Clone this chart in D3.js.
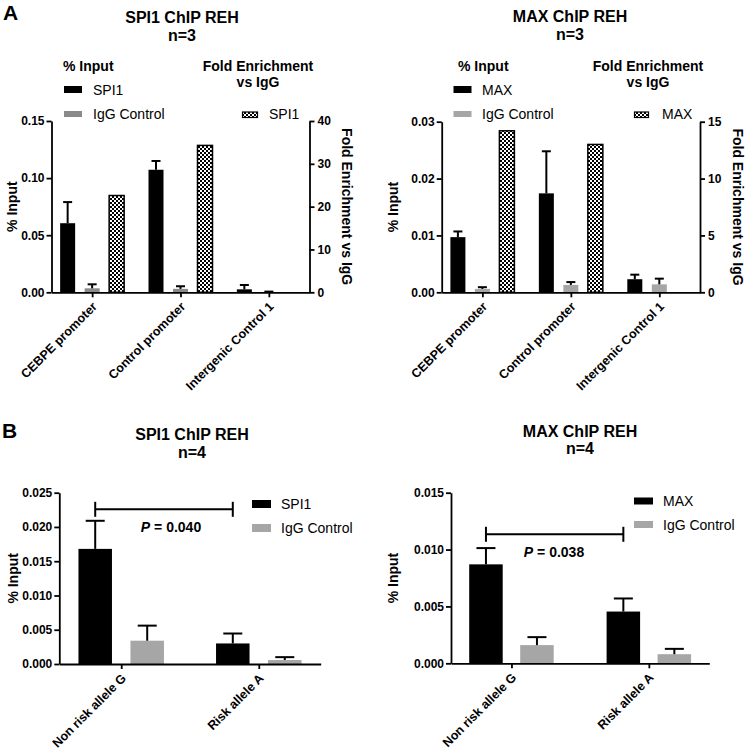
<!DOCTYPE html>
<html>
<head>
<meta charset="utf-8">
<script src="https://cdn.jsdelivr.net/npm/d3@7"></script>
<style>
  body { margin: 0; background: #fff; }
  svg { display: block; font-family: "Liberation Sans", Arial, sans-serif; }
  .axis path, .axis line { stroke: #000; stroke-width: 1.8; }
  .axis text { font-size: 12px; font-weight: bold; fill: #000; font-family: "Liberation Sans", Arial, sans-serif; }
  .axis .xlab { font-size: 12.5px; }
</style>
</head>
<body>
<script>
// ---------- DATA ----------
const promoterGroups = ["CEBPE promoter", "Control promoter", "Intergenic Control 1"];
const alleleGroups = ["Non risk allele G", "Risk allele A"];

// Panel A, SPI1 ChIP REH (n=3)
const spi1Input      = [0.0605, 0.1073, 0.0026];
const spi1InputErr   = [0.0185, 0.0077, 0.0038];
const spi1IgG        = [0.0035, 0.0030, 0.0003];
const spi1IgGErr     = [0.0035, 0.0023, 0.0003];
const spi1Fold       = [22.6, 34.3, null];

// Panel A, MAX ChIP REH (n=3)
const maxInput       = [0.0097, 0.0174, 0.0023];
const maxInputErr    = [0.0010, 0.0074, 0.0008];
const maxIgG         = [0.0006, 0.0013, 0.0014];
const maxIgGErr      = [0.0003, 0.0005, 0.0010];
const maxFold        = [14.2, 13.0, null];

// Panel B, SPI1 ChIP REH (n=4)
const spi1Allele     = [0.0168, 0.0030];
const spi1AlleleErr  = [0.0041, 0.00145];
const spi1AlleleIgG  = [0.0034, 0.00058];
const spi1AlleleIgGErr = [0.0022, 0.00042];
const spi1P = "0.040";

// Panel B, MAX ChIP REH (n=4)
const maxAllele      = [0.0087, 0.00455];
const maxAlleleErr   = [0.00143, 0.00115];
const maxAlleleIgG   = [0.0016, 0.0008];
const maxAlleleIgGErr = [0.0007, 0.00047];
const maxP = "0.038";

// Tick values
const ticksSpi1A = [0, 0.05, 0.10, 0.15];
const ticksSpi1Fold = [0, 10, 20, 30, 40];
const ticksMaxA = [0, 0.01, 0.02, 0.03];
const ticksMaxFold = [0, 5, 10, 15];
const ticksSpi1B = [0, 0.005, 0.010, 0.015, 0.020, 0.025];
const ticksMaxB = [0, 0.005, 0.010, 0.015];

// ---------- DRAWING ----------
const W = 745, H = 753;
const svg = d3.select("body").append("svg").attr("width", W).attr("height", H);

const defs = svg.append("defs");
const pat = defs.append("pattern").attr("id", "checker")
  .attr("patternUnits", "userSpaceOnUse").attr("width", 4).attr("height", 4);
pat.append("rect").attr("width", 4).attr("height", 4).attr("fill", "#fff");
pat.append("rect").attr("width", 2).attr("height", 2).attr("fill", "#000");
pat.append("rect").attr("x", 2).attr("y", 2).attr("width", 2).attr("height", 2).attr("fill", "#000");

function txt(x, y, s, opts = {}) {
  return svg.append("text").attr("x", x).attr("y", y)
    .attr("text-anchor", opts.anchor || "start")
    .attr("font-size", opts.size || 14)
    .attr("font-weight", opts.bold ? "bold" : "normal")
    .attr("fill", "#000")
    .text(s);
}

function panel(cfg) {
  const g = svg.append("g");
  const x = d3.scalePoint().domain(cfg.groups).range([cfg.x0, cfg.x1]).padding(cfg.pad);
  const y = d3.scaleLinear().domain([0, cfg.yMax]).range([cfg.yBottom, cfg.yTopPx]);
  let y2 = null;
  if (cfg.y2Max) y2 = d3.scaleLinear().domain([0, cfg.y2Max]).range([cfg.yBottom, cfg.yTopPx]);

  // bars
  cfg.series.forEach(s => {
    const sc = s.right ? y2 : y;
    cfg.groups.forEach((grp, i) => {
      const v = s.values[i];
      if (v == null) return;
      const cx = x(grp) + s.offset;
      g.append("rect")
        .attr("x", cx - cfg.bw / 2)
        .attr("y", sc(v))
        .attr("width", cfg.bw)
        .attr("height", cfg.yBottom - sc(v))
        .attr("fill", s.fill)
        .attr("stroke", s.stroke || "none")
        .attr("stroke-width", s.stroke ? 1.5 : 0);
      if (s.errors) {
        const e = s.errors[i];
        const yt = sc(v + e);
        g.append("line").attr("x1", cx).attr("x2", cx).attr("y1", sc(v)).attr("y2", yt)
          .attr("stroke", "#000").attr("stroke-width", 2);
        g.append("line").attr("x1", cx - cfg.cap / 2).attr("x2", cx + cfg.cap / 2)
          .attr("y1", yt).attr("y2", yt).attr("stroke", "#000").attr("stroke-width", 2);
      }
    });
  });

  // axes
  g.append("g").attr("class", "axis").attr("transform", `translate(${cfg.x0},0)`)
    .call(d3.axisLeft(y).tickValues(cfg.ticks).tickFormat(d3.format(cfg.fmt)).tickSize(5).tickSizeOuter(0).tickPadding(2));
  if (y2) {
    g.append("g").attr("class", "axis").attr("transform", `translate(${cfg.x1},0)`)
      .call(d3.axisRight(y2).tickValues(cfg.ticks2).tickFormat(d3.format("d")).tickSize(5).tickSizeOuter(0).tickPadding(3));
  }
  const xa = g.append("g").attr("class", "axis").attr("transform", `translate(0,${cfg.yBottom})`)
    .call(d3.axisBottom(x).tickSize(5).tickSizeOuter(0));
  xa.selectAll(".tick text")
    .attr("class", "xlab")
    .attr("x", 0).attr("y", 0).attr("dy", "0.35em")
    .attr("transform", "translate(2,12) rotate(-45)")
    .style("text-anchor", "end");

  // axis titles
  const cy = (cfg.yBottom + cfg.yTopPx) / 2;
  svg.append("text").attr("transform", `translate(${cfg.yTitleX},${cy}) rotate(-90)`)
    .attr("text-anchor", "middle").attr("dy", "0.35em")
    .attr("font-size", 14).attr("font-weight", "bold").text("% Input");
  if (y2) {
    svg.append("text").attr("transform", `translate(${cfg.y2TitleX},${cy}) rotate(90)`)
      .attr("text-anchor", "middle").attr("dy", "0.35em")
      .attr("font-size", 14).attr("font-weight", "bold").text("Fold Enrichment vs IgG");
  }
  return { x, y };
}

// Panel letters
txt(3, 20, "A", { size: 21, bold: true });
txt(2, 438, "B", { size: 21, bold: true });

// ---- A left: SPI1 ----
txt(182, 23, "SPI1 ChIP REH", { size: 16, bold: true, anchor: "middle" });
txt(182, 41, "n=3", { size: 16, bold: true, anchor: "middle" });
panel({
  groups: promoterGroups, x0: 51.5, x1: 309.5, pad: 0.46,
  yBottom: 292.3, yTopPx: 121, yMax: 0.15, ticks: ticksSpi1A, fmt: ".2f",
  y2Max: 40, ticks2: ticksSpi1Fold,
  bw: 15, cap: 9,
  yTitleX: 12, y2TitleX: 347,
  series: [
    { values: spi1Input, errors: spi1InputErr, fill: "#000", offset: -24.5 },
    { values: spi1IgG, errors: spi1IgGErr, fill: "#8a8a8a", offset: 0 },
    { values: spi1Fold, fill: "url(#checker)", stroke: "#000", offset: 24.5, right: true }
  ]
});
txt(63, 71, "% Input", { bold: true });
svg.append("rect").attr("x", 64).attr("y", 86).attr("width", 18).attr("height", 7).attr("fill", "#000");
txt(93, 95, "SPI1");
svg.append("rect").attr("x", 64).attr("y", 111).attr("width", 18).attr("height", 6).attr("fill", "#8a8a8a");
txt(93, 119, "IgG Control");
txt(258, 71, "Fold Enrichment", { bold: true, anchor: "middle" });
txt(258, 87, "vs IgG", { bold: true, anchor: "middle" });
svg.append("rect").attr("x", 242.5).attr("y", 112).attr("width", 15).attr("height", 5.5)
  .attr("fill", "url(#checker)").attr("stroke", "#000").attr("stroke-width", 1.2);
txt(269, 119, "SPI1");

// ---- A right: MAX ----
txt(570, 22, "MAX ChIP REH", { size: 16, bold: true, anchor: "middle" });
txt(570, 40, "n=3", { size: 16, bold: true, anchor: "middle" });
panel({
  groups: promoterGroups, x0: 441.7, x1: 700, pad: 0.46,
  yBottom: 292.3, yTopPx: 121.7, yMax: 0.03, ticks: ticksMaxA, fmt: ".2f",
  y2Max: 15, ticks2: ticksMaxFold,
  bw: 15, cap: 9,
  yTitleX: 393, y2TitleX: 738,
  series: [
    { values: maxInput, errors: maxInputErr, fill: "#000", offset: -24.5 },
    { values: maxIgG, errors: maxIgGErr, fill: "#a6a6a6", offset: 0 },
    { values: maxFold, fill: "url(#checker)", stroke: "#000", offset: 24.5, right: true }
  ]
});
txt(458, 71, "% Input", { bold: true });
svg.append("rect").attr("x", 453.5).attr("y", 86).attr("width", 18).attr("height", 7).attr("fill", "#000");
txt(482, 95, "MAX");
svg.append("rect").attr("x", 453.5).attr("y", 111).attr("width", 18).attr("height", 6).attr("fill", "#a6a6a6");
txt(482, 119, "IgG Control");
txt(648, 71, "Fold Enrichment", { bold: true, anchor: "middle" });
txt(648, 87, "vs IgG", { bold: true, anchor: "middle" });
svg.append("rect").attr("x", 634.5).attr("y", 112).attr("width", 14).attr("height", 5.5)
  .attr("fill", "url(#checker)").attr("stroke", "#000").attr("stroke-width", 1.2);
txt(662, 119, "MAX");

// ---- B left: SPI1 ----
txt(192, 440, "SPI1 ChIP REH", { size: 16, bold: true, anchor: "middle" });
txt(192, 458, "n=4", { size: 16, bold: true, anchor: "middle" });
const bl = panel({
  groups: alleleGroups, x0: 59.3, x1: 320.7, pad: 0.45,
  yBottom: 664, yTopPx: 492.7, yMax: 0.025, ticks: ticksSpi1B, fmt: ".3f",
  bw: 33.5, cap: 19,
  yTitleX: 13,
  series: [
    { values: spi1Allele, errors: spi1AlleleErr, fill: "#000", offset: -26 },
    { values: spi1AlleleIgG, errors: spi1AlleleIgGErr, fill: "#a6a6a6", offset: 26 }
  ]
});
function bracket(p, x1, x2, yLine, pText, tx, ty) {
  svg.append("line").attr("x1", x1).attr("x2", x2).attr("y1", yLine).attr("y2", yLine)
    .attr("stroke", "#000").attr("stroke-width", 2);
  [x1, x2].forEach(xx => svg.append("line").attr("x1", xx).attr("x2", xx)
    .attr("y1", yLine - 7.5).attr("y2", yLine + 7.5).attr("stroke", "#000").attr("stroke-width", 2));
  const t = svg.append("text").attr("x", tx).attr("y", ty).attr("text-anchor", "middle")
    .attr("font-size", 14).attr("font-weight", "bold");
  t.append("tspan").attr("font-style", "italic").text("P");
  t.append("tspan").text(" = " + pText);
}
bracket(bl, bl.x(alleleGroups[0]) - 26, bl.x(alleleGroups[1]) - 26, 509.3, spi1P, 171, 532);
svg.append("rect").attr("x", 252).attr("y", 500).attr("width", 19).attr("height", 8).attr("fill", "#000");
txt(281, 509, "SPI1");
svg.append("rect").attr("x", 252).attr("y", 524).attr("width", 19).attr("height", 8).attr("fill", "#a6a6a6");
txt(281, 533, "IgG Control");

// ---- B right: MAX ----
txt(580, 437, "MAX ChIP REH", { size: 16, bold: true, anchor: "middle" });
txt(580, 454, "n=4", { size: 16, bold: true, anchor: "middle" });
const br = panel({
  groups: alleleGroups, x0: 451, x1: 709.3, pad: 0.44,
  yBottom: 663.3, yTopPx: 492.7, yMax: 0.015, ticks: ticksMaxB, fmt: ".3f",
  bw: 33.5, cap: 19,
  yTitleX: 393,
  series: [
    { values: maxAllele, errors: maxAlleleErr, fill: "#000", offset: -25.5 },
    { values: maxAlleleIgG, errors: maxAlleleIgGErr, fill: "#a6a6a6", offset: 25.5 }
  ]
});
bracket(br, br.x(alleleGroups[0]) - 25.5, br.x(alleleGroups[1]) - 25.5, 534.3, maxP, 554, 556.5);
svg.append("rect").attr("x", 634).attr("y", 497.5).attr("width", 19).attr("height", 7).attr("fill", "#000");
txt(663, 506, "MAX");
svg.append("rect").attr("x", 634).attr("y", 521).attr("width", 19).attr("height", 7).attr("fill", "#a6a6a6");
txt(663, 530, "IgG Control");
</script>
</body>
</html>
